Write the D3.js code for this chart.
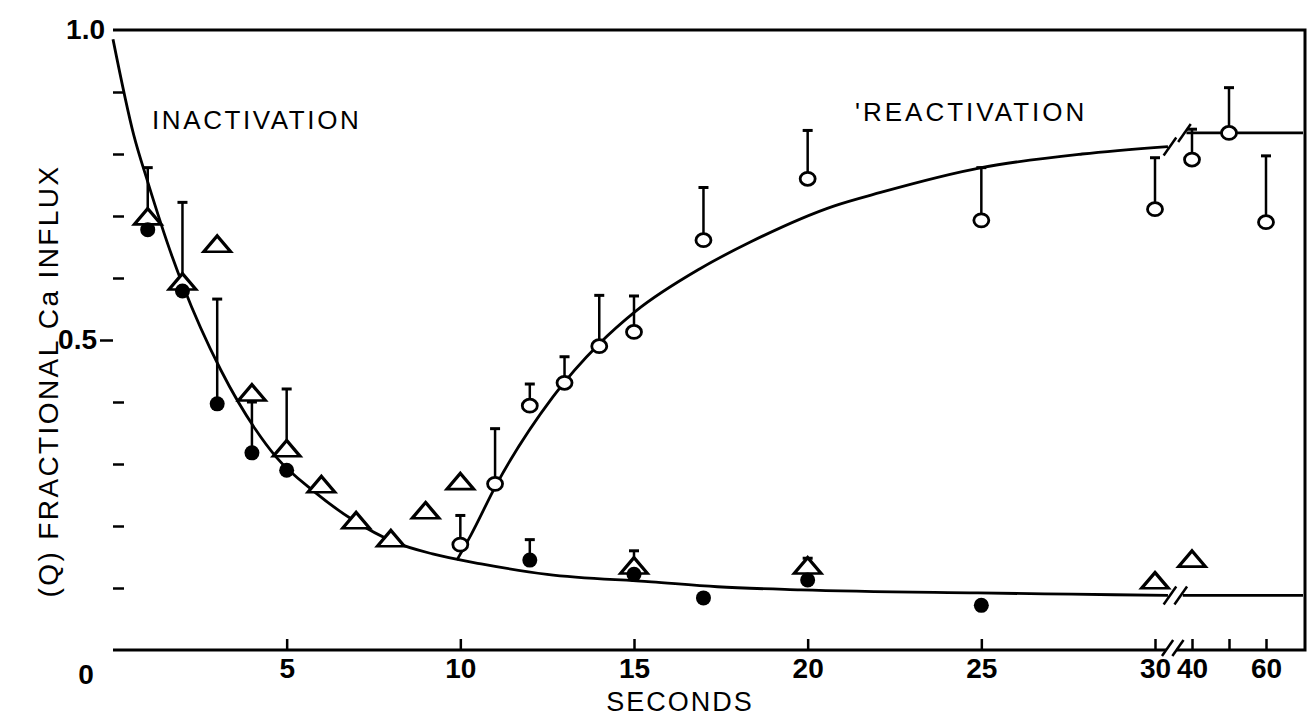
<!DOCTYPE html>
<html>
<head>
<meta charset="utf-8">
<script src="https://cdn.jsdelivr.net/npm/d3@7"></script>
<style>
  body { margin: 0; background: #fff; }
  text { font-family: "Liberation Sans", Arial, sans-serif; fill: #000; }
</style>
</head>
<body>
<div id="wrapper"></div>
<script>
// seconds on the x axis, fractional influx on the y axis
const triangles = [
  {t: 1, v: 0.695, err: 0.778}, {t: 2, v: 0.59, err: 0.722}, {t: 3, v: 0.651},
  {t: 4, v: 0.411}, {t: 5, v: 0.321, err: 0.421}, {t: 6, v: 0.263},
  {t: 7, v: 0.205}, {t: 8, v: 0.176}, {t: 9, v: 0.221}, {t: 10, v: 0.268},
  {t: 15, v: 0.132, err: 0.16}, {t: 20, v: 0.132, err: 0.148},
  {t: 30, v: 0.108}, {t: 40, v: 0.143}
];
const dots = [
  {t: 1, v: 0.678}, {t: 2, v: 0.579}, {t: 3, v: 0.397, err: 0.566},
  {t: 4, v: 0.318, err: 0.40}, {t: 5, v: 0.29}, {t: 12, v: 0.145, err: 0.178},
  {t: 15, v: 0.122}, {t: 17, v: 0.084}, {t: 20, v: 0.113}, {t: 25, v: 0.072}
];
const circles = [
  {t: 10, v: 0.17, err: 0.217}, {t: 11, v: 0.268, err: 0.357},
  {t: 12, v: 0.394, err: 0.429}, {t: 13, v: 0.431, err: 0.473},
  {t: 14, v: 0.49, err: 0.572}, {t: 15, v: 0.513, err: 0.571},
  {t: 17, v: 0.661, err: 0.746}, {t: 20, v: 0.76, err: 0.838},
  {t: 25, v: 0.693, err: 0.778}, {t: 30, v: 0.711, err: 0.794},
  {t: 40, v: 0.791, err: 0.84}, {t: 50, v: 0.834, err: 0.907},
  {t: 60, v: 0.69, err: 0.797}
];
// fitted curves, split at the axis break
const inactCurve = [
  [[0, 0.985], [0.6, 0.83], [1, 0.755], [1.7, 0.635], [2, 0.59], [3.1, 0.452],
   [4.1, 0.356], [4.7, 0.311], [5.8, 0.255], [6.9, 0.21], [8.1, 0.174],
   [9.2, 0.155], [10.6, 0.139], [12.5, 0.122], [15.5, 0.11], [17.4, 0.102],
   [19.8, 0.097], [24.9, 0.092], [27.6, 0.09], [33.5, 0.088]],
  [[37.5, 0.088], [50, 0.088], [70, 0.088]]
];
const reactCurve = [
  [[9.9, 0.145], [10.3, 0.185], [11.05, 0.268], [12.66, 0.408], [14, 0.494],
   [15.06, 0.547], [16.9, 0.615], [18.35, 0.658], [20.75, 0.716], [22.1, 0.738],
   [25, 0.778], [27.9, 0.8], [33.5, 0.812]],
  [[38.5, 0.834], [50, 0.834], [70, 0.834]]
];
const xTicks = [5, 10, 15, 20, 25, 30, 40, 50, 60];
const xLabels = {5: "5", 10: "10", 15: "15", 20: "20", 25: "25", 30: "30", 40: "40", 50: "", 60: "60"};
const yMinor = [0.1, 0.2, 0.3, 0.4, 0.6, 0.7, 0.8, 0.9];

const width = 1309, height = 716;
const x = d3.scaleLinear().domain([0, 30, 40, 60]).range([113, 1155, 1192, 1266]);
const y = d3.scaleLinear().domain([0, 1]).range([650, 30]);
const right = 1305;
const tickFont = 28;

const svg = d3.select("#wrapper").append("svg")
  .attr("width", width).attr("height", height);

// frame
const frame = d3.path();
frame.moveTo(x(0), y(1)); frame.lineTo(right, y(1)); frame.lineTo(right, y(0));
frame.lineTo(x(35.8), y(0));
frame.moveTo(x(33), y(0)); frame.lineTo(x(0), y(0)); frame.closePath();
svg.append("path").attr("d", frame.toString())
  .attr("fill", "none").attr("stroke", "#000").attr("stroke-width", 3);

// axes
const xAxis = svg.append("g").attr("transform", `translate(0,${y(0)})`)
  .call(d3.axisBottom(x).tickValues(xTicks).tickSizeInner(-11).tickSizeOuter(0)
    .tickPadding(8).tickFormat(d => xLabels[d]));
xAxis.select(".domain").remove();
xAxis.selectAll("line").attr("stroke-width", 2.5);
xAxis.selectAll("text").attr("font-size", tickFont).attr("font-weight", "bold")
  .attr("font-family", "Liberation Sans, Arial, sans-serif");

const yAxis = svg.append("g").attr("transform", `translate(${x(0)},0)`)
  .call(d3.axisLeft(y).tickValues(yMinor).tickSizeInner(-11).tickSizeOuter(0).tickFormat(""));
yAxis.select(".domain").remove();
yAxis.selectAll("line").attr("stroke-width", 2.5);

const yMajor = svg.append("g").attr("transform", `translate(${x(0)},0)`)
  .call(d3.axisLeft(y).tickValues([0.5]).tickSize(13).tickPadding(3).tickFormat(d3.format(".1f")));
const yTop = svg.append("g").attr("transform", `translate(${x(0)},0)`)
  .call(d3.axisLeft(y).tickValues([1.0]).tickSize(0).tickPadding(8).tickFormat(d3.format(".1f")));
[yMajor, yTop].forEach(g => {
  g.select(".domain").remove();
  g.selectAll("line").attr("stroke-width", 2.5);
  g.selectAll("text").attr("font-size", tickFont).attr("font-weight", "bold")
    .attr("font-family", "Liberation Sans, Arial, sans-serif");
});
svg.append("text").attr("x", 86).attr("y", 684).attr("text-anchor", "middle")
  .attr("font-size", tickFont).attr("font-weight", "bold").text("0");

// axis break marks
const slash = (cx, cy, len) => svg.append("line")
  .attr("x1", cx - len * 0.35).attr("y1", cy + len / 2)
  .attr("x2", cx + len * 0.35).attr("y2", cy - len / 2)
  .attr("stroke", "#000").attr("stroke-width", 2.5);
[33.4, 36.2].forEach(t => slash(x(t), y(0) - 2, 16));

// curves
const line = d3.line().x(d => x(d[0])).y(d => y(d[1])).curve(d3.curveMonotoneX);
[inactCurve, reactCurve].forEach(segs => segs.forEach(seg =>
  svg.append("path").datum(seg).attr("d", line)
    .attr("fill", "none").attr("stroke", "#000").attr("stroke-width", 2.8)));
[inactCurve, reactCurve].forEach(segs => {
  [segs[0][segs[0].length - 1], segs[1][0]].forEach((p, i) =>
    slash(x(p[0]) + (i === 0 ? 2 : -2), y(p[1]), 18));
});

// error bars
const bars = svg.append("g");
[triangles, dots, circles].forEach(series => {
  const withErr = series.filter(d => d.err !== undefined);
  bars.selectAll(null).data(withErr).enter().append("line")
    .attr("x1", d => x(d.t)).attr("x2", d => x(d.t))
    .attr("y1", d => y(d.v)).attr("y2", d => y(d.err))
    .attr("stroke", "#000").attr("stroke-width", 2.5);
  bars.selectAll(null).data(withErr).enter().append("line")
    .attr("x1", d => x(d.t) - 5).attr("x2", d => x(d.t) + 5)
    .attr("y1", d => y(d.err)).attr("y2", d => y(d.err))
    .attr("stroke", "#000").attr("stroke-width", 3);
});

// markers
const triPath = d3.symbol().type(d3.symbolTriangle).size(200);
svg.append("g").selectAll("path").data(triangles).enter().append("path")
  .attr("d", triPath)
  .attr("transform", d => `translate(${x(d.t)},${y(d.v)}) scale(1.25,0.85)`)
  .attr("fill", "#fff").attr("stroke", "#000").attr("stroke-width", 3);
svg.append("g").selectAll("circle").data(dots).enter().append("circle")
  .attr("cx", d => x(d.t)).attr("cy", d => y(d.v)).attr("r", 7.5)
  .attr("fill", "#000");
svg.append("g").selectAll("ellipse").data(circles).enter().append("ellipse")
  .attr("cx", d => x(d.t)).attr("cy", d => y(d.v)).attr("rx", 7.5).attr("ry", 6.5)
  .attr("fill", "#fff").attr("stroke", "#000").attr("stroke-width", 2.8);

// labels
svg.append("text").attr("x", 152).attr("y", 129)
  .attr("font-size", 26).attr("letter-spacing", 2.6).text("INACTIVATION");
svg.append("text").attr("x", 855).attr("y", 121)
  .attr("font-size", 26).attr("letter-spacing", 3).text("'REACTIVATION");
svg.append("text").attr("x", 680).attr("y", 711).attr("text-anchor", "middle")
  .attr("font-size", 27).attr("letter-spacing", 2).text("SECONDS");
svg.append("text").attr("transform", "translate(58,381) rotate(-90)")
  .attr("text-anchor", "middle").attr("font-size", 28).attr("letter-spacing", 2.4)
  .text("(Q) FRACTIONAL Ca INFLUX");
</script>
</body>
</html>
